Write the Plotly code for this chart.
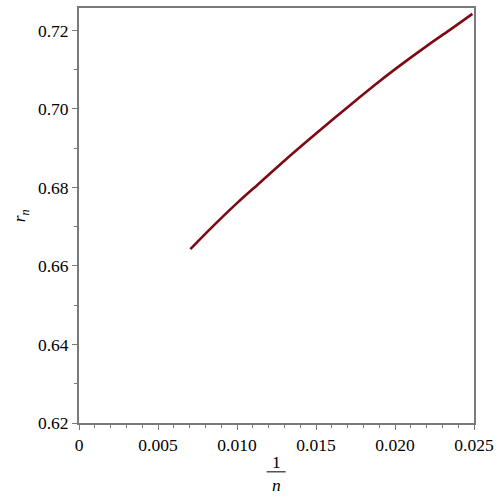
import plotly.graph_objects as go

# values: r_n against 1/n
inv_n = [0.00705, 0.0085, 0.0100, 0.0115, 0.0130, 0.0145, 0.0160, 0.0175,
         0.0190, 0.0205, 0.0220, 0.0235, 0.0249]
r_n = [0.6643, 0.6702, 0.6760, 0.6814, 0.6868, 0.6920, 0.6971, 0.7021,
       0.7070, 0.7116, 0.7160, 0.7202, 0.7242]

x_tickvals = [0, 0.005, 0.010, 0.015, 0.020, 0.025]
x_ticktext = ["0", "0.005", "0.010", "0.015", "0.020", "0.025"]
y_tickvals = [0.62, 0.64, 0.66, 0.68, 0.70, 0.72]
y_ticktext = ["0.62", "0.64", "0.66", "0.68", "0.70", "0.72"]

font = dict(family="'Liberation Serif', 'Times New Roman', Times, 'DejaVu Serif', serif",
            size=17.5, color="black")
axis_grey = "#7a7a7a"

fig = go.Figure()
fig.add_trace(go.Scatter(x=inv_n, y=r_n, mode="lines",
                         line=dict(color="#7d0a12", width=2.6, shape="spline"),
                         showlegend=False, hoverinfo="skip"))

fig.update_xaxes(range=[0, 0.025], tickvals=x_tickvals, ticktext=x_ticktext,
                 showgrid=False, zeroline=False, showline=True, linecolor=axis_grey,
                 linewidth=2, mirror=True, ticks="outside", ticklen=5, tickcolor=axis_grey,
                 tickwidth=1, minor=dict(ticks="outside", dtick=0.001, ticklen=3,
                                         tickcolor=axis_grey, tickwidth=1),
                 tickfont=font)
fig.update_yaxes(range=[0.62, 0.7257], tickvals=y_tickvals, ticktext=y_ticktext,
                 showgrid=False, zeroline=False, showline=True, linecolor=axis_grey,
                 linewidth=2, mirror=True, ticks="outside", ticklen=5, tickcolor=axis_grey,
                 tickwidth=1, minor=dict(ticks="outside", tick0=0.61, dtick=0.02, ticklen=3,
                                         tickcolor=axis_grey, tickwidth=1),
                 tickfont=font)

# axis titles: 1/n as a stacked fraction, r_n rotated
fig.add_annotation(text="1", xref="paper", yref="paper", x=0.501, y=-0.0935,
                   xanchor="center", yanchor="middle", showarrow=False, font=font)
fig.add_shape(type="line", xref="paper", yref="paper", x0=0.475, x1=0.523,
              y0=-0.1175, y1=-0.1175, line=dict(color="#555555", width=1.5))
fig.add_annotation(text="<i>n</i>", xref="paper", yref="paper", x=0.501, y=-0.1487,
                   xanchor="center", yanchor="middle", showarrow=False, font=font)
fig.add_annotation(text="<i>r</i><sub><i>n</i></sub>", xref="paper", yref="paper",
                   x=-0.146, y=0.499, xanchor="center", yanchor="middle",
                   textangle=-90, showarrow=False, font=font)

fig.update_layout(width=500, height=500, plot_bgcolor="white", paper_bgcolor="white",
                  margin=dict(l=79, r=26, t=6, b=77), font=font)

# page body has a default 8px margin; drop it so the figure sits at the corner
fig.write_html("out.html", config={"displayModeBar": False},
               post_script="document.body.style.margin='0';")
